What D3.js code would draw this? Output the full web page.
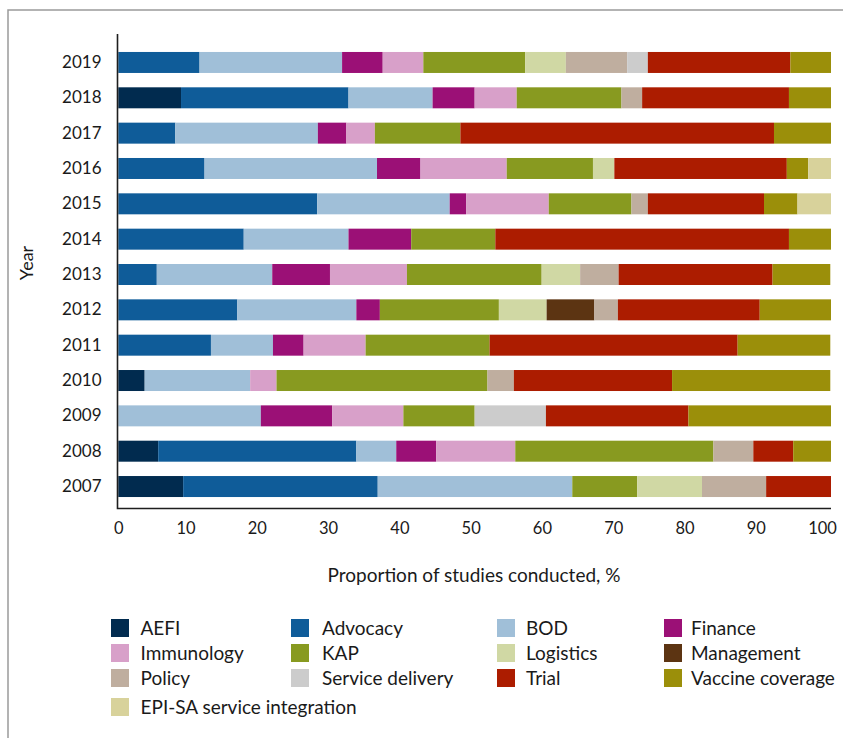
<html>
<head>
  <meta charset="utf-8">
  <script src="https://d3js.org/d3.v7.min.js"></script>
  <style>
    body { margin: 0; background: #fff; }
    text { font-family: Lato, "Open Sans", sans-serif; fill: #1a1a1a; }
  </style>
</head>
<body>
  <div id="chart"></div>
  <script>
    // Years, top to bottom
    var years = ['2019','2018','2017','2016','2015','2014','2013','2012','2011','2010','2009','2008','2007'];

    // Study categories (stack order, left to right)
    var categories = ['AEFI','Advocacy','BOD','Finance','Immunology','KAP','Logistics','Management',
                      'Policy','Service delivery','Trial','Vaccine coverage','EPI-SA service integration'];

    var colors = ['#012b4f','#0f5c99','#a0bfd8','#9b1076','#d8a0c9','#889a20','#d0d8a4','#5c3412',
                  '#bfae9f','#cccccc','#ac1c00','#9b8f0a','#d8d29b'];

    // Proportion of studies conducted, % (one value per year, same order as years)
    var aefi        = [0, 8.8, 0, 0, 0, 0, 0, 0, 0, 3.7, 0, 5.6, 9.1];
    var advocacy    = [11.4, 23.5, 8.0, 12.1, 27.9, 17.6, 5.4, 16.7, 13.0, 0, 0, 27.8, 27.3];
    var bod         = [20.0, 11.8, 20.0, 24.2, 18.6, 14.7, 16.2, 16.7, 8.7, 14.8, 20.0, 5.6, 27.3];
    var finance     = [5.7, 5.9, 4.0, 6.1, 2.3, 8.8, 8.1, 3.3, 4.3, 0, 10.0, 5.6, 0];
    var immunology  = [5.7, 5.9, 4.0, 12.1, 11.6, 0, 10.8, 0, 8.7, 3.7, 10.0, 11.1, 0];
    var kap         = [14.3, 14.7, 12.0, 12.1, 11.6, 11.8, 18.9, 16.7, 17.4, 29.6, 10.0, 27.8, 9.1];
    var logistics   = [5.7, 0, 0, 3.0, 0, 0, 5.4, 6.7, 0, 0, 0, 0, 9.1];
    var management  = [0, 0, 0, 0, 0, 0, 0, 6.7, 0, 0, 0, 0, 0];
    var policy      = [8.6, 2.9, 0, 0, 2.3, 0, 5.4, 3.3, 0, 3.7, 0, 5.6, 9.0];
    var serviceDel  = [2.9, 0, 0, 0, 0, 0, 0, 0, 0, 0, 10.0, 0, 0];
    var trial       = [20.0, 20.6, 44.0, 24.2, 16.3, 41.2, 21.6, 19.9, 34.8, 22.2, 20.0, 5.6, 9.1];
    var vaccineCov  = [5.7, 5.9, 8.0, 3.0, 4.7, 5.9, 8.1, 10.0, 13.0, 22.2, 20.0, 5.3, 0];
    var epiSa       = [0, 0, 0, 3.2, 4.7, 0, 0, 0, 0, 0, 0, 0, 0];

    var xTicks = [0,10,20,30,40,50,60,70,80,90,100];

    var series = [aefi, advocacy, bod, finance, immunology, kap, logistics, management,
                  policy, serviceDel, trial, vaccineCov, epiSa];

    // build table rows for d3.stack
    var data = years.map(function(y, i) {
      var row = {year: y};
      categories.forEach(function(c, j) { row[c] = series[j][i]; });
      return row;
    });

    var width = 843, height = 738;

    var svg = d3.select('#chart').append('svg')
        .attr('width', width)
        .attr('height', height);

    // outer frame
    svg.append('rect')
        .attr('x', 8).attr('y', 10)
        .attr('width', 900).attr('height', 800)
        .style('fill', 'none')
        .style('stroke', '#9a9a9a')
        .style('stroke-width', 1.5);

    var x = d3.scaleLinear().domain([0, 100]).range([118.3, 831]);
    var y = d3.scaleBand().domain(years)
        .range([44.8, 504.2])
        .paddingInner(0.406)
        .paddingOuter(0.203);

    var color = d3.scaleOrdinal().domain(categories).range(colors);

    var stacked = d3.stack().keys(categories)(data);

    svg.append('g')
      .selectAll('g')
      .data(stacked)
      .enter().append('g')
        .style('fill', function(d) { return color(d.key); })
      .selectAll('rect')
      .data(function(d) { return d; })
      .enter().append('rect')
        .attr('x', function(d) { return x(d[0]); })
        .attr('width', function(d) { return Math.max(0, Math.min(x(d[1]), 831) - x(d[0])); })
        .attr('y', function(d) { return y(d.data.year); })
        .attr('height', y.bandwidth());

    // X axis
    var xAxis = svg.append('g')
        .attr('transform', 'translate(0,508.5)')
        .call(d3.axisBottom(x).tickValues(xTicks).tickSize(0).tickPadding(14));
    xAxis.select('.domain').remove();
    xAxis.selectAll('text')
        .style('font-size', '16.5px')
        .style('font-family', 'Lato, sans-serif')
        .attr('fill', '#1a1a1a')
        .attr('dx', function(d) { return d === 0 ? 0 : (d === 100 ? -9 : -4); });

    // Y axis
    var yAxis = svg.append('g')
        .attr('transform', 'translate(117.5,0)')
        .call(d3.axisLeft(y).tickSize(0).tickPadding(16));
    yAxis.select('.domain').remove();
    yAxis.selectAll('text').style('font-size', '17px').style('font-family', 'Lato, sans-serif').attr('fill', '#1a1a1a');

    // axis lines
    svg.append('path')
        .attr('d', 'M117.5,34V508.5H831')
        .style('fill', 'none')
        .style('stroke', '#1e1e1e')
        .style('stroke-width', 1.6);

    svg.append('text')
        .attr('x', 474)
        .attr('y', 582)
        .attr('text-anchor', 'middle')
        .style('font-size', '19px')
        .text('Proportion of studies conducted, %');

    svg.append('text')
        .attr('transform', 'translate(33,263) rotate(-90)')
        .attr('text-anchor', 'middle')
        .style('font-size', '18px')
        .text('Year');

    // legend, 4 columns
    var colX = [111, 291, 497, 664];
    var textX = [140.5, 322, 526, 691];
    var rowY = [619, 644, 669, 698];

    var legend = svg.append('g').selectAll('g')
        .data(categories)
        .enter().append('g');

    legend.append('rect')
        .attr('x', function(d, i) { return colX[i % 4]; })
        .attr('y', function(d, i) { return rowY[Math.floor(i / 4)]; })
        .attr('width', 18)
        .attr('height', 18)
        .style('fill', function(d) { return color(d); });

    legend.append('text')
        .attr('x', function(d, i) { return textX[i % 4]; })
        .attr('y', function(d, i) { return rowY[Math.floor(i / 4)] + 9; })
        .attr('dy', '0.35em')
        .style('font-size', '19px')
        .text(function(d) { return d; });
  </script>
</body>
</html>
